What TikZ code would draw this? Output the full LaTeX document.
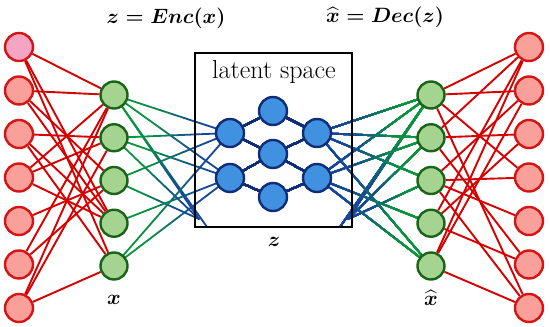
\documentclass[tikz,border=0pt]{standalone}
\usepackage{amsmath,amssymb}
\usepackage{fontspec}
\usepackage{tikz}
\usetikzlibrary{calc,backgrounds}
\definecolor{redfill}{RGB}{250,160,155}
\definecolor{pinkfill}{RGB}{245,165,195}
\definecolor{reddraw}{RGB}{215,20,20}
\definecolor{greenfill}{RGB}{165,212,145}
\definecolor{greendraw}{RGB}{25,100,25}
\definecolor{bluefill}{RGB}{65,145,225}
\definecolor{bluedraw}{RGB}{15,45,120}
\definecolor{gwire}{RGB}{10,150,60}
\definecolor{bwire}{RGB}{20,70,155}
\definecolor{rwire}{RGB}{215,0,0}
\tikzset{
  rnode/.style   = {circle, draw=reddraw, fill=redfill, line width=2.4pt,
                    minimum size=28pt, inner sep=0pt},
  gnode/.style   = {circle, draw=greendraw, fill=greenfill, line width=2.4pt,
                    minimum size=27pt, inner sep=0pt},
  bnode/.style   = {circle, draw=bluedraw, fill=bluefill, line width=2.4pt,
                    minimum size=28pt, inner sep=0pt},
  redwire/.style = {draw=rwire, line width=1.9pt},
  latwire/.style = {draw=bluedraw, line width=1.8pt},
  fwire/.style   = {line width=1.8pt, line cap=round},
  lbl/.style     = {font=\fontsize{21}{25}\selectfont\boldmath, inner sep=0pt},
}
% green-to-blue wire in short pieces
\newcommand\fadewire[2]{%
  \foreach \k/\p in {0/0,1/0,2/5,3/15,4/35,5/60,6/80,7/92,8/100,9/100}{
    \pgfmathsetmacro\ta{\k/10}
    \pgfmathsetmacro\tb{(\k+1)/10}
    \draw[fwire, bwire!\p!gwire] ($(#1)!\ta!(#2)$) -- ($(#1)!\tb!(#2)$);
  }}
\begin{document}
\begin{tikzpicture}[x=1pt,y=-1pt]
  \useasboundingbox (0,0) rectangle (550,327);
  % outer layers
  \node[rnode, fill=pinkfill] (in1) at (19,47) {};
  \foreach \i [evaluate=\i as \y using 47+43.5*(\i-1)] in {2,...,7}
    \node[rnode] (in\i) at (19,\y) {};
  \foreach \i [evaluate=\i as \y using 47+43.5*(\i-1)] in {1,...,7}
    \node[rnode] (out\i) at (529,\y) {};
  % code layers
  \foreach \i [evaluate=\i as \y using 95+42.75*(\i-1)] in {1,...,5}{
    \node[gnode] (enc\i) at (114,\y) {};
    \node[gnode] (dec\i) at (431,\y) {};
  }
  % latent space
  \node[draw, line width=1.3pt, minimum width=157pt, minimum height=174pt,
        inner sep=0pt] (box) at (273.5,140) {};
  \node[font=\fontsize{26}{30}\selectfont, inner sep=0pt] (ltxt) at (274,72) {latent space};
  \node[bnode] (zl1) at (230,133) {};
  \node[bnode] (zl2) at (230,178) {};
  \node[bnode] (zm1) at (273,111) {};
  \node[bnode] (zm2) at (273,154) {};
  \node[bnode] (zm3) at (273,197) {};
  \node[bnode] (zr1) at (317,133) {};
  \node[bnode] (zr2) at (317,178) {};
  \coordinate (cl1) at (199,219);
  \coordinate (cl2) at (207,227);
  \coordinate (cr1) at (348,219);
  \coordinate (cr2) at (340,227);
  % labels
  \node[lbl] (enc) at (166,18) {$z=Enc(x)$};
  \node[lbl] (dec) at (385,17) {$\widehat{x}=Dec(z)$};
  \node[lbl] (xlab) at (114,300) {$x$};
  \node[lbl] (zlab) at (274,242) {$z$};
  \node[lbl] (xhlab) at (431,298) {$\widehat{x}$};
  \begin{scope}[on background layer]
    \foreach \a/\b in {1/1,1/4,1/5,2/1,2/3,2/4,3/2,3/4,3/5,4/1,4/2,4/4,
                       5/3,6/1,6/3,7/1,7/2,7/5}
      \draw[redwire] (in\a) -- (enc\b);
    \foreach \a/\b in {1/1,1/2,1/4,1/5,2/1,2/3,2/5,3/2,3/4,4/1,4/3,
                       5/3,6/2,6/4,7/1,7/3,7/5}
      \draw[redwire] (out\a) -- (dec\b);
    \foreach \a/\b in {1/zl1,1/zl2,1/cl1,1/cl2,2/zl1,2/zl2,2/cl1,3/zl1,3/cl1,
                       4/zl2,5/zl1,5/zl2}
      \fadewire{enc\a}{\b}
    \foreach \a/\b in {1/zr1,1/zr2,1/cr1,1/cr2,2/zr1,2/zr2,2/cr1,3/zr1,3/cr1,
                       4/zr2,5/zr1,5/zr2}
      \fadewire{dec\a}{\b}
    \foreach \a/\b in {zl1/zm1,zl1/zm2,zl2/zm2,zl2/zm3,zm1/zr1,zm2/zr1,zm2/zr2,zm3/zr2}
      \draw[latwire] (\a) -- (\b);
  \end{scope}
\end{tikzpicture}
\end{document}
